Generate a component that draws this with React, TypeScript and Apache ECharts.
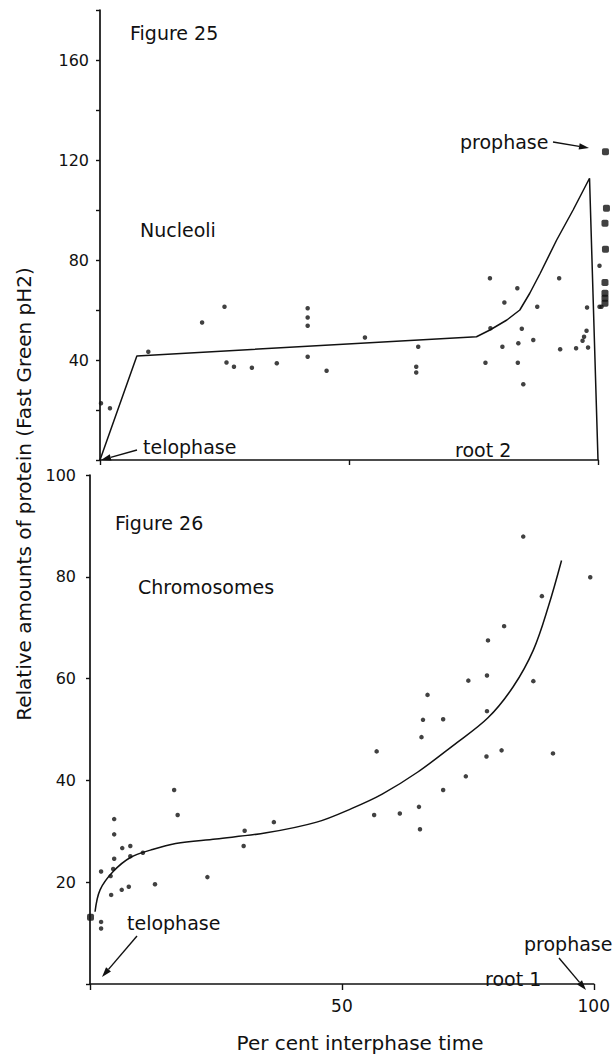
import React, { useEffect, useRef } from "react";
import * as echarts from "echarts";

// ---- Figure 25 : Nucleoli (root 2) ----
const nucleoliLineX = [0, 7.4, 75.6, 78.3, 81.7, 84.3, 86.3, 88.4, 91.7, 95.0, 98.3, 100];
const nucleoliLineY = [0, 41.6, 49.3, 52, 56, 60, 66.7, 74.7, 88, 100, 112.7, 0];

const nucleoliDotX = [0.2, 2, 9.7, 20.5, 25, 25.4, 26.9, 30.5, 35.5, 41.7, 41.7, 41.7, 41.7, 45.5, 53.2, 63.9, 63.5, 63.5, 78.3, 78.4, 77.4, 83.8, 81.2, 87.8, 84.7, 80.8, 84, 87, 83.9, 85, 92.2, 92.4, 95.6, 98, 96.9, 97.2, 97.7, 97.8, 100.3, 100.3, 100.7];
const nucleoliDotY = [22.7, 20.7, 43.3, 55, 61.3, 39, 37.3, 36.9, 38.7, 60.7, 57, 53.7, 41.3, 35.7, 49, 45.3, 37.3, 35, 72.7, 52.7, 38.9, 68.7, 63, 61.3, 52.5, 45.3, 46.7, 48, 38.9, 30.3, 72.7, 44.3, 44.7, 45, 47.7, 49.3, 51.7, 61, 77.7, 61.3, 61.3];

const prophaseDotX = [101.5, 101.7, 101.4, 101.5, 101.4, 101.4, 101.4, 101.4];
const prophaseDotY = [123.3, 100.7, 94.7, 84.3, 71, 66.7, 64.7, 62.7];

const nucleoliYTicks = [40, 80, 120, 160];

// ---- Figure 26 : Chromosomes (root 1) ----
const chromLineX = [1.0, 2.0, 4.6, 8.1, 12, 17, 25, 35, 45, 52, 58, 65, 72, 79, 84, 88, 91, 93.6];
const chromLineY = [14.2, 18.5, 22.1, 24.9, 26.3, 27.6, 28.5, 29.7, 31.8, 34.5, 37.3, 41.6, 46.8, 52.3, 58.4, 65.6, 74.2, 83.2];

const chromDotX = [86.0, 99.3, 89.7, 82.2, 79.0, 75.1, 78.8, 88.0, 67.0, 66.1, 70.1, 65.8, 78.8, 56.9, 81.7, 78.7, 91.9, 74.6, 70.1, 65.3, 61.5, 56.4, 65.5, 2.2, 4.8, 4.8, 6.4, 8.0, 4.8, 8.0, 4.6, 4.1, 4.2, 6.3, 7.7, 10.5, 12.9, 16.7, 17.4, 23.3, 30.7, 30.5, 36.5, 2.2, 2.2];
const chromDotY = [87.9, 79.9, 76.2, 70.3, 67.5, 59.6, 60.6, 59.5, 56.8, 51.9, 52.0, 48.5, 53.6, 45.7, 45.9, 44.7, 45.3, 40.8, 38.1, 34.8, 33.5, 33.2, 30.4, 22.1, 32.4, 29.4, 26.7, 27.1, 24.6, 25.1, 22.6, 21.2, 17.5, 18.5, 19.1, 25.8, 19.6, 38.1, 33.2, 21.0, 30.1, 27.1, 31.8, 12.2, 10.9];
const chromBigDotX = [0.1];
const chromBigDotY = [13.1];

const chromXTicks = [50, 100];
const chromYTicks = [20, 40, 60, 80, 100];

const FONT = "DejaVu Sans";
const INK = "#111";

const zip = (xs: number[], ys: number[]) => xs.map((x, i) => [x, ys[i]]);

function arrow(x1: number, y1: number, x2: number, y2: number, len = 10, hw = 3.2) {
  const dx = x2 - x1, dy = y2 - y1;
  const d = Math.hypot(dx, dy);
  const ux = dx / d, uy = dy / d;
  const bx = x2 - ux * len, by = y2 - uy * len;
  return [
    { type: "line", shape: { x1, y1, x2: bx, y2: by }, style: { stroke: INK, lineWidth: 1.4 } },
    {
      type: "polygon",
      shape: { points: [[x2, y2], [bx - uy * hw, by + ux * hw], [bx + uy * hw, by - ux * hw]] },
      style: { fill: INK },
    },
  ];
}

function label(text: string, x: number, y: number, size = 19, align = "left") {
  return {
    type: "text",
    x,
    y,
    style: { text, fill: INK, font: `${size}px "${FONT}"`, align, verticalAlign: "middle" },
  };
}

export default function App() {
  const ref = useRef<HTMLDivElement>(null);
  useEffect(() => {
    if (!ref.current) return;
    const chart = echarts.init(ref.current, null, { renderer: "svg" });
    const axisLine = { show: true, onZero: false, lineStyle: { color: INK, width: 1.7 } };
    const tickStyle = { color: INK, width: 1.4 };
    const option: any = {
      animation: false,
      backgroundColor: "#fff",
      grid: [
        { left: 100, top: 10, width: 498, height: 450 },
        { left: 90, top: 475, width: 504, height: 509 },
      ],
      xAxis: [
        {
          type: "value", gridIndex: 0, min: 0, max: 100, interval: 50,
          axisLine, axisTick: { show: true, length: 5, lineStyle: tickStyle },
          axisLabel: { show: false }, splitLine: { show: false },
        },
        {
          type: "value", gridIndex: 1, min: 0, max: 100, interval: 50,
          axisLine, axisTick: { show: true, length: 6, lineStyle: tickStyle },
          axisLabel: {
            formatter: (v: number) => (chromXTicks.includes(v) ? String(v) : ""),
            margin: 13, fontSize: 17, color: INK, fontFamily: FONT,
          },
          splitLine: { show: false },
        },
      ],
      yAxis: [
        {
          type: "value", gridIndex: 0, min: 0, max: 180, interval: 20,
          axisLine, axisTick: { show: true, length: 4, lineStyle: tickStyle },
          axisLabel: {
            formatter: (v: number) => (nucleoliYTicks.includes(v) ? String(v) : ""),
            margin: 11, fontSize: 16, color: INK, fontFamily: FONT,
          },
          splitLine: { show: false },
        },
        {
          type: "value", gridIndex: 1, min: 0, max: 100, interval: 20,
          axisLine, axisTick: { show: true, length: 4, lineStyle: tickStyle },
          axisLabel: {
            formatter: (v: number) => (chromYTicks.includes(v) ? String(v) : ""),
            margin: 14, fontSize: 16, color: INK, fontFamily: FONT,
          },
          splitLine: { show: false },
        },
      ],
      series: [
        {
          type: "line", xAxisIndex: 0, yAxisIndex: 0, data: zip(nucleoliLineX, nucleoliLineY),
          symbol: "none", lineStyle: { color: INK, width: 1.5 }, clip: false,
        },
        {
          type: "scatter", xAxisIndex: 0, yAxisIndex: 0, data: zip(nucleoliDotX, nucleoliDotY),
          symbolSize: 4.5, itemStyle: { color: INK }, clip: false,
        },
        {
          type: "scatter", xAxisIndex: 0, yAxisIndex: 0, data: zip(prophaseDotX, prophaseDotY),
          symbol: "roundRect", symbolSize: 7, itemStyle: { color: INK }, clip: false,
        },
        {
          type: "line", xAxisIndex: 1, yAxisIndex: 1, data: zip(chromLineX, chromLineY),
          symbol: "none", smooth: 0.35,
          lineStyle: { color: INK, width: 1.5 }, clip: false,
        },
        {
          type: "scatter", xAxisIndex: 1, yAxisIndex: 1, data: zip(chromDotX, chromDotY),
          symbolSize: 4.5, itemStyle: { color: INK }, clip: false,
        },
        {
          type: "scatter", xAxisIndex: 1, yAxisIndex: 1, data: zip(chromBigDotX, chromBigDotY),
          symbol: "roundRect", symbolSize: 7, itemStyle: { color: INK }, clip: false,
        },
      ],
      graphic: [
        label("Figure 25", 130, 33),
        label("Nucleoli", 140, 230),
        label("telophase", 143, 447),
        label("prophase", 460, 142),
        label("root 2", 455, 450),
        ...arrow(137, 450, 101, 460),
        ...arrow(553, 142, 589, 148),
        label("Figure 26", 115, 523),
        label("Chromosomes", 138, 587),
        label("telophase", 127, 923),
        label("prophase", 524, 944),
        label("root 1", 485, 979),
        ...arrow(137, 936, 102, 977),
        ...arrow(559, 958, 586, 990),
        label("Per cent interphase time", 360, 1043, 20, "center"),
        {
          type: "text",
          x: 24,
          y: 494,
          rotation: Math.PI / 2,
          style: {
            text: "Relative amounts of protein (Fast Green pH2)",
            fill: INK, font: `20px "${FONT}"`, align: "center", verticalAlign: "middle",
          },
        },
      ],
    };
    chart.setOption(option);
    return () => chart.dispose();
  }, []);
  return (
    <div
      ref={ref}
      style={{ position: "fixed", left: 0, top: 0, width: 613, height: 1057, background: "#fff" }}
    />
  );
}
